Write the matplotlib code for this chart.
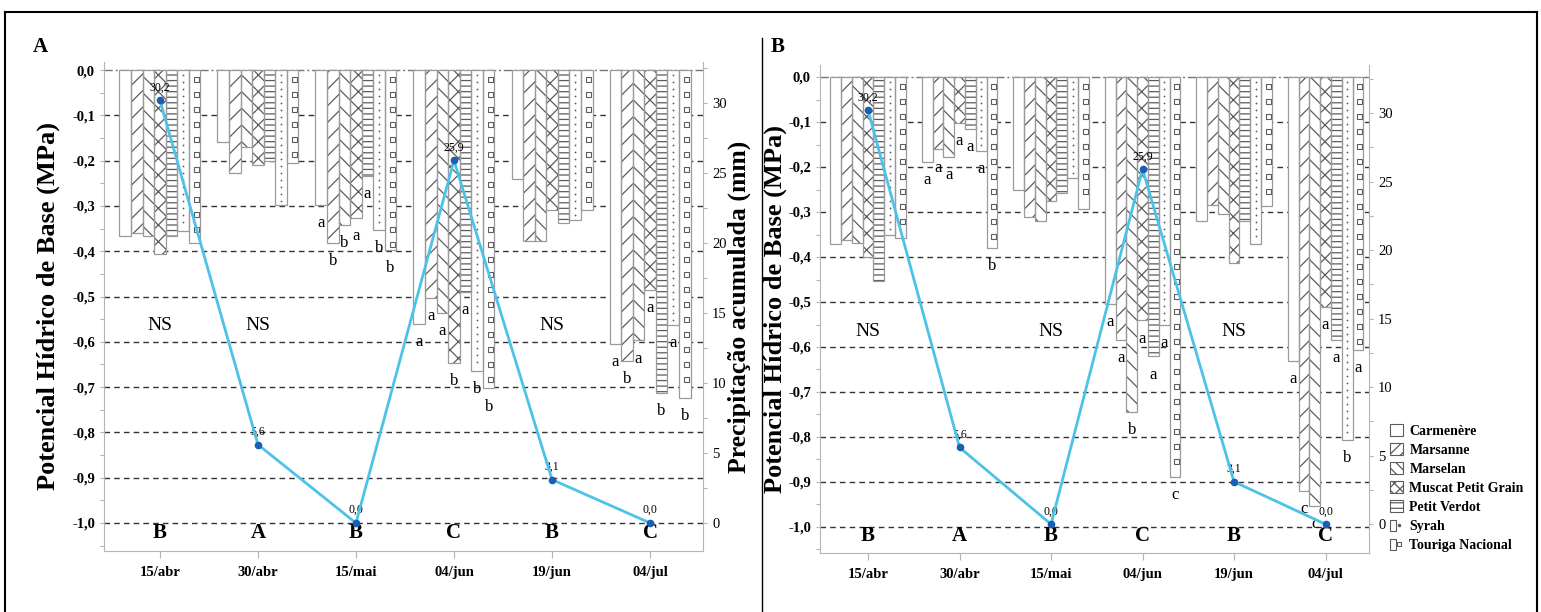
import numpy as np
import matplotlib
matplotlib.use('Agg')
import matplotlib.pyplot as plt
from matplotlib.patches import Patch
from matplotlib.lines import Line2D
from matplotlib.legend_handler import HandlerTuple

plt.rcParams['font.family'] = ['Liberation Serif', 'DejaVu Serif']
plt.rcParams['hatch.linewidth'] = 0.9

# ---------------- data ----------------
dates = ['15/abr', '30/abr', '15/mai', '04/jun', '19/jun', '04/jul']
cultivars = ['Carmenère', 'Marsanne', 'Marselan', 'Muscat Petit Grain',
             'Petit Verdot', 'Syrah', 'Touriga Nacional']
precip = [30.2, 5.6, 0.0, 25.9, 3.1, 0.0]
precip_labels = ['30,2', '5,6', '0,0', '25,9', '3,1', '0,0']

# Panel A (MPa), one list per cultivar, values per date
a_carmenere = [-0.366, -0.159, -0.298, -0.560, -0.240, -0.605]
a_marsanne = [-0.360, -0.228, -0.382, -0.504, -0.377, -0.643]
a_marselan = [-0.366, -0.171, -0.343, -0.536, -0.377, -0.597]
a_muscat = [-0.407, -0.210, -0.326, -0.646, -0.309, -0.485]
a_pverdot = [-0.366, -0.200, -0.234, -0.490, -0.337, -0.712]
a_syrah = [-0.355, -0.298, -0.354, -0.664, -0.332, -0.563]
a_touriga = [-0.382, -0.206, -0.398, -0.703, -0.309, -0.723]
a_sig = ['', '', 'abbaabb', 'aaababb', '', 'abaabab']
a_ns = [True, True, False, False, True, False]
a_group = ['B', 'A', 'B', 'C', 'B', 'C']

# Panel B (MPa)
b_carmenere = [-0.372, -0.189, -0.252, -0.505, -0.321, -0.631]
b_marsanne = [-0.363, -0.161, -0.310, -0.585, -0.285, -0.919]
b_marselan = [-0.369, -0.178, -0.321, -0.744, -0.305, -0.954]
b_muscat = [-0.401, -0.102, -0.276, -0.541, -0.413, -0.511]
b_pverdot = [-0.453, -0.115, -0.258, -0.621, -0.321, -0.585]
b_syrah = [-0.350, -0.165, -0.224, -0.550, -0.372, -0.807]
b_touriga = [-0.357, -0.379, -0.293, -0.889, -0.287, -0.607]
b_sig = ['', 'aaaaaab', '', 'aabaaac', '', 'accaaba']
b_ns = [True, False, True, False, True, False]
b_group = ['B', 'A', 'B', 'C', 'B', 'C']

yticks = [0.0, -0.1, -0.2, -0.3, -0.4, -0.5, -0.6, -0.7, -0.8, -0.9, -1.0]
ytick_labels = ['0,0', '-0,1', '-0,2', '-0,3', '-0,4', '-0,5', '-0,6', '-0,7', '-0,8', '-0,9', '-1,0']
rticks = [0, 5, 10, 15, 20, 25, 30]

hatches = ['', '//', '\\\\', 'xx', '---', '', '']
legend_hatches = ['', '///', '\\\\\\', 'xxx', '---', '', '']
EDGE = '#9a9a9a'
HATCH = '#5c5c5c'
SPINE = '#b5b5b5'

W, H = 1541, 612
fig = plt.figure(figsize=(W / 100, H / 100), dpi=100)


def fx(x):
    return x / W


def fy(y):
    return 1 - y / H


def panel(box, series, sig, ns, group, xlim, ylim, ylim2, ylab_x, right_label):
    ax = fig.add_axes(box)
    x = np.arange(len(dates))
    w = 0.118
    ax.set_xlim(*xlim)
    ax.set_ylim(*ylim)
    ppu = box[3] * H / (ylim[1] - ylim[0])  # pixels per MPa
    for v in yticks:
        if v == 0:
            ax.axhline(v, color='#777777', lw=1.0, ls=(0, (6, 2, 1.5, 2)), zorder=0.5)
        else:
            ax.axhline(v, color='#333333', lw=1.0, ls=(0, (4, 3)), zorder=0.5)
    for j, (vals, h) in enumerate(zip(series, hatches)):
        xs = x + (j - 3) * w
        ax.bar(xs, vals, w, color='white', edgecolor=HATCH, lw=0, hatch=h, zorder=2)
        ax.bar(xs, vals, w, fill=False, edgecolor=EDGE, lw=0.9, zorder=2.5)
        if j == 5:  # Syrah: column of dots
            step = 7 / ppu
            for xi, v in zip(xs, vals):
                ys = np.arange(-0.7 * step, v + 0.5 * step, -step)
                ax.plot(np.full_like(ys, xi), ys, ls='', marker='o', ms=1.3,
                        mfc=HATCH, mec=HATCH, mew=0, zorder=3)
        if j == 6:  # Touriga: column of small squares
            step = 15 / ppu
            for xi, v in zip(xs, vals):
                ys = np.arange(-0.6 * step, v + 0.4 * step, -step)
                ax.plot(np.full_like(ys, xi + 0.12 * w), ys, ls='', marker='s', ms=3.6,
                        mfc='white', mec=HATCH, mew=0.8, zorder=3)
        for i, v in enumerate(vals):
            if sig[i]:
                ax.annotate(sig[i][j], (xs[i], v), xytext=(0, -13), textcoords='offset points',
                            ha='center', va='center', fontsize=12, zorder=4)
    for i in range(len(dates)):
        if ns[i]:
            ax.text(x[i], -0.565, 'NS', ha='center', va='center', fontsize=14)
        ax.text(x[i], -1.021, group[i], ha='center', va='center', fontsize=15,
                fontweight='bold', zorder=4)
    ax.text(1, -1.053, 'ns', ha='center', va='top', fontsize=12, clip_on=True)

    ax.set_yticks(yticks)
    ax.set_yticklabels(ytick_labels, fontsize=10.5, fontweight='bold')
    ax.set_yticks(np.arange(-1.05, 0.01, 0.05), minor=True)
    ax.set_xticks(x)
    ax.set_xticklabels(dates, fontsize=10.5, fontweight='bold')
    ax.tick_params(axis='both', which='both', color=SPINE, length=3, width=0.8)
    ax.tick_params(axis='x', length=5, pad=6)
    for s in ['top', 'right']:
        ax.spines[s].set_visible(False)
    for s in ['left', 'bottom']:
        ax.spines[s].set_color(SPINE)
    ax.set_ylabel('Potencial Hídrico de Base (MPa)', fontsize=19, fontweight='bold')
    ax.yaxis.set_label_coords(ylab_x, 0.5)

    ax2 = ax.twinx()
    ax2.set_ylim(*ylim2)
    ax2.plot(x, precip, color='#4cc3e6', lw=2, marker='o', ms=4.5,
             mfc='#1a5fb4', mec='#1a5fb4', zorder=5)
    for i, (p, lab) in enumerate(zip(precip, precip_labels)):
        ax2.annotate(lab, (x[i], p), xytext=(0, 5), textcoords='offset points',
                     ha='center', va='bottom', fontsize=8.5)
    ax2.set_yticks(rticks)
    ax2.set_yticklabels([str(t) for t in rticks], fontsize=10.5)
    ax2.set_yticks(np.arange(-2.5, 33, 2.5), minor=True)
    ax2.set_ylim(*ylim2)
    ax2.tick_params(axis='y', which='both', color=SPINE, length=3, width=0.8)
    for s in ['top', 'left', 'bottom']:
        ax2.spines[s].set_visible(False)
    ax2.spines['right'].set_color(SPINE)
    if right_label:
        ax2.set_ylabel('Precipitação acumulada (mm)', fontsize=18.5, fontweight='bold',
                       rotation=90)
        ax2.yaxis.set_label_coords(1.041, 0.5)
    return ax, ax2


boxA = [fx(104), fy(551), fx(703) - fx(104), fy(62) - fy(551)]
boxB = [fx(820), fy(553), fx(1369) - fx(820), fy(65) - fy(553)]

seriesA = [a_carmenere, a_marsanne, a_marselan, a_muscat, a_pverdot, a_syrah, a_touriga]
seriesB = [b_carmenere, b_marsanne, b_marselan, b_muscat, b_pverdot, b_syrah, b_touriga]

axA, axA2 = panel(boxA, seriesA, a_sig, a_ns, a_group, (-0.57, 5.54),
                  (-1.0618, 0.0177), (-2.0, 32.93), -0.073, True)
axB, axB2 = panel(boxB, seriesB, b_sig, b_ns, b_group, (-0.525, 5.475),
                  (-1.0578, 0.0267), (-2.1, 33.5), -0.060, False)

# panel letters
fig.text(fx(40), fy(47), 'A', fontsize=15, fontweight='bold', ha='center', va='center')
fig.text(fx(778), fy(47), 'B', fontsize=15, fontweight='bold', ha='center', va='center')

# legend
handles = []
for name, h in zip(cultivars, legend_hatches):
    p = Patch(facecolor='white', edgecolor=HATCH, hatch=h, lw=0.8)
    if name == 'Syrah':
        m = Line2D([], [], ls='', marker='o', ms=1.5, mfc=HATCH, mec=HATCH)
        handles.append((p, m))
    elif name == 'Touriga Nacional':
        m = Line2D([], [], ls='', marker='s', ms=3.2, mfc='white', mec=HATCH, mew=0.8)
        handles.append((p, m))
    else:
        handles.append(p)
fig.legend(handles, cultivars, loc='upper left', bbox_to_anchor=(fx(1390), fy(424)),
           frameon=False, handlelength=0.9, handleheight=0.9, handletextpad=0.5,
           labelspacing=0.4, borderaxespad=0, borderpad=0,
           prop={'size': 10, 'weight': 'bold'},
           handler_map={tuple: HandlerTuple(ndivide=None)})

# outer frame and divider
for (x0, y0, x1, y1, lw) in [(5, 12, 1537, 12, 1.5), (5, 12, 5, 612, 1.5),
                             (1537, 12, 1537, 612, 1.5), (762, 38, 762, 612, 1.0)]:
    fig.add_artist(Line2D([fx(x0), fx(x1)], [fy(y0), fy(y1)], color='black', lw=lw,
                          transform=fig.transFigure))

fig.savefig('out.png', dpi=100)
